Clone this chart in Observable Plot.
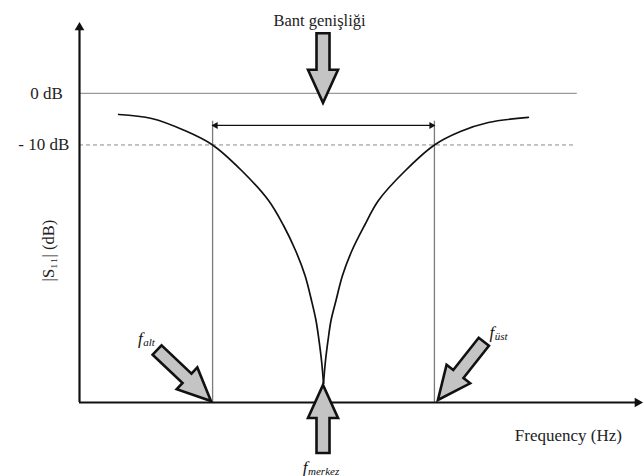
<!DOCTYPE html>
<html>
<head>
<meta charset="utf-8">
<script src="https://cdn.jsdelivr.net/npm/d3@7"></script>
<script src="https://cdn.jsdelivr.net/npm/@observablehq/plot@0.6"></script>
<style>
  html, body { margin: 0; padding: 0; background: #fff; }
  #chart svg { display: block; overflow: visible; }
  #chart svg text { font-family: "Liberation Serif", "Times New Roman", serif; }
</style>
</head>
<body>
<div id="chart"></div>
<script>
// ---- data (frequency in arbitrary units, |S11| in dB) ----
const xDomain = [0.9, 3.42];
const yDomain = [-60, 13];

const tickValues = [0, -10];
const tickLabels = ["0 dB", "- 10 dB"];

const fAlt = 1.5, fMerkez = 2.0, fUst = 2.5;
const bandDb = -10;
const bandArrowDb = -6.2;
const markerTopDb = -5.4;
const zeroLineEnd = 3.144;
const dashLineEnd = 3.135;

const leftFreq = [1.0766, 1.2252, 1.3739, 1.5, 1.6306, 1.7523, 1.8198, 1.8739, 1.9167, 1.9459, 1.9662, 1.9797, 1.9919, 2.0];
const leftDb   = [-4.08, -4.86, -7.19, -10, -14.96, -20.78, -25.64, -30.49, -35.34, -40.20, -44.08, -47.96, -52.23, -56.31];
const rightFreq = [2.0, 2.0081, 2.0203, 2.0338, 2.0563, 2.0856, 2.1284, 2.1847, 2.2477, 2.3694, 2.5, 2.6171, 2.7432, 2.9234];
const rightDb   = [-56.31, -52.23, -47.96, -44.08, -40.20, -35.34, -30.49, -25.64, -20.78, -14.96, -10, -7.39, -5.64, -4.66];

// block arrows: tail -> tip
const arrowNames = ["bant", "merkez", "alt", "ust"];
const arrowTailX = [2.0, 2.0, 1.252, 2.725];
const arrowTailY = [11.6, -69.9, -49.9, -48.3];
const arrowTipX  = [2.0, 2.0, 1.495, 2.518];
const arrowTipY  = [-1.9, -56.7, -59.8, -59.6];

// labels
const subLabels = ["alt", "üst", "merkez"];
const subLabelX = [1.185, 2.770, 1.928];
const subLabelY = [-47.6, -46.4, -72.6];

const titleText = "Bant genişliği";
const titleX = 1.982, titleY = 14.2;
const xLabel = "Frequency (Hz)";
const xLabelX = 3.104, xLabelY = -66.4;
const yLabel = "|S₁₁| (dB)";
const yLabelX = 0.761, yLabelY = -30.5;
const tickLabelX = [0.752, 0.739];

// ---- tables built from the arrays ----
const curve = [
  ...leftFreq.map((f, i) => ({f, db: leftDb[i], branch: "left"})),
  ...rightFreq.map((f, i) => ({f, db: rightDb[i], branch: "right"}))
];
const ticks = tickValues.map((v, i) => ({v, label: tickLabels[i], x: tickLabelX[i]}));
const subs = subLabels.map((s, i) => ({s, x: subLabelX[i], y: subLabelY[i]}));

const SERIF = "Liberation Serif";
const SHAFT = 13, HEAD_W = 30, HEAD_L = 33;
function blockArrows(index, scales) {
  const g = d3.create("svg:g");
  arrowNames.forEach((name, i) => {
    const x0 = scales.x(arrowTailX[i]), y0 = scales.y(arrowTailY[i]);
    const x1 = scales.x(arrowTipX[i]), y1 = scales.y(arrowTipY[i]);
    const len = Math.hypot(x1 - x0, y1 - y0);
    const ux = (x1 - x0) / len, uy = (y1 - y0) / len;
    const nx = -uy, ny = ux;
    const bx = x1 - ux * HEAD_L, by = y1 - uy * HEAD_L;
    const pts = [
      [x0 + nx * SHAFT / 2, y0 + ny * SHAFT / 2],
      [bx + nx * SHAFT / 2, by + ny * SHAFT / 2],
      [bx + nx * HEAD_W / 2, by + ny * HEAD_W / 2],
      [x1, y1],
      [bx - nx * HEAD_W / 2, by - ny * HEAD_W / 2],
      [bx - nx * SHAFT / 2, by - ny * SHAFT / 2],
      [x0 - nx * SHAFT / 2, y0 - ny * SHAFT / 2]
    ];
    g.append("polygon")
      .attr("points", pts.map(p => p.join(",")).join(" "))
      .attr("fill", "#c4c4c4")
      .attr("stroke", "#111")
      .attr("stroke-width", 2.6)
      .attr("stroke-linejoin", "miter");
  });
  return g.node();
}

const chart = Plot.plot({
  width: 644,
  height: 476,
  marginLeft: 79,
  marginRight: 6,
  marginTop: 26,
  marginBottom: 74,
  x: {domain: xDomain, axis: null},
  y: {domain: yDomain, axis: null},
  style: {background: "white", color: "#222"},
  marks: [
    // 0 dB reference line
    Plot.ruleY([0], {x1: xDomain[0], x2: zeroLineEnd, stroke: "#9a9a9a", strokeWidth: 1.3}),
    // -10 dB dashed line
    Plot.ruleY([bandDb], {x1: xDomain[0], x2: dashLineEnd, stroke: "#8a8a8a", strokeWidth: 1, strokeDasharray: "4,3"}),
    // band edge verticals
    Plot.ruleX([fAlt, fUst], {y1: yDomain[0], y2: markerTopDb, stroke: "#7a7a7a", strokeWidth: 1.3}),
    // bandwidth double arrow
    Plot.ruleY([bandArrowDb], {x1: fAlt, x2: fUst, stroke: "#111", strokeWidth: 1.4}),
    Plot.dot([fAlt], {x: d => d, y: bandArrowDb, symbol: "triangle", r: 2.6, rotate: -90, fill: "#111", stroke: null, dx: 3}),
    Plot.dot([fUst], {x: d => d, y: bandArrowDb, symbol: "triangle", r: 2.6, rotate: 90, fill: "#111", stroke: null, dx: -3}),
    // S11 curve
    Plot.line(curve, {x: "f", y: "db", z: "branch", curve: "catmull-rom", stroke: "#111", strokeWidth: 1.7}),
    // axes
    Plot.ruleX([xDomain[0]], {y1: yDomain[0], y2: yDomain[1], stroke: "#111", strokeWidth: 2.2}),
    Plot.ruleY([yDomain[0]], {x1: xDomain[0], x2: xDomain[1], stroke: "#111", strokeWidth: 2.2}),
    Plot.dot([yDomain[1]], {x: xDomain[0], y: d => d, symbol: "triangle", r: 3.6, fill: "#111", stroke: null, dy: 1}),
    Plot.dot([xDomain[1]], {x: d => d, y: yDomain[0], symbol: "triangle", r: 3.6, rotate: 90, fill: "#111", stroke: null, dx: -1}),
    // block arrows
    blockArrows,
    // tick labels
    Plot.text(ticks, {x: "x", y: "v", text: "label", fontSize: 17, fontFamily: SERIF, fill: "#222"}),
    // title
    Plot.text([titleText], {x: titleX, y: titleY, text: d => d, fontSize: 16.5, fontFamily: SERIF, fill: "#222"}),
    // axis labels
    Plot.text([xLabel], {x: xLabelX, y: xLabelY, text: d => d, fontSize: 17, fontFamily: SERIF, fill: "#222"}),
    Plot.text([yLabel], {x: yLabelX, y: yLabelY, text: d => d, fontSize: 16.5, fontFamily: SERIF, rotate: -90, fill: "#222"}),
    // f labels with subscripts
    Plot.text(subs, {x: "x", y: "y", text: () => "f", textAnchor: "end", fontSize: 17, fontFamily: SERIF, fontStyle: "italic", fill: "#111"}),
    Plot.text(subs, {x: "x", y: "y", text: "s", textAnchor: "start", fontSize: 11, fontFamily: SERIF, fontStyle: "italic", dy: 4, dx: 0.5, fill: "#111"})
  ]
});
document.getElementById("chart").appendChild(chart);
</script>
</body>
</html>
